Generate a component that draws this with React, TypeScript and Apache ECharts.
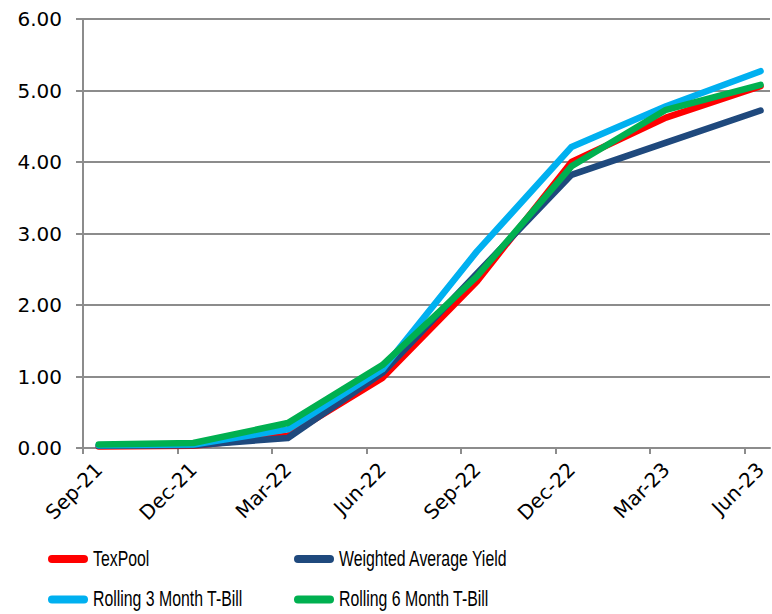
import React, { useEffect, useRef } from "react";
import * as echarts from "echarts";

const categories = ["Sep-21", "Dec-21", "Mar-22", "Jun-22", "Sep-22", "Dec-22", "Mar-23", "Jun-23"];
const seriesNames = ["TexPool", "Weighted Average Yield", "Rolling 3 Month T-Bill", "Rolling 6 Month T-Bill"];
const texPool = [0.02, 0.03, 0.17, 0.98, 2.33, 4.0, 4.62, 5.06];
const weightedAvgYield = [0.03, 0.04, 0.14, 1.05, 2.44, 3.82, 4.27, 4.72];
const rolling3M = [0.04, 0.05, 0.26, 1.1, 2.75, 4.21, 4.78, 5.27];
const rolling6M = [0.05, 0.07, 0.35, 1.16, 2.4, 3.94, 4.73, 5.08];
const seriesColors = ["#ff0000", "#1f497d", "#00b0f0", "#00b050"];
const yTicks = [0, 1, 2, 3, 4, 5, 6];

const MONTHS_PER_STEP = 3;
const POINT_OFFSET = 0.5;
const tickPositions = categories.map((_, i) => i * MONTHS_PER_STEP);
const labelPositions = categories.map((_, i) => i * MONTHS_PER_STEP + POINT_OFFSET);
const toPairs = (vals: number[]) => vals.map((v, i) => [labelPositions[i], v]);

const axisFont = "'DejaVu Sans', 'Liberation Sans', Arial, sans-serif";
const legendFont = "'Liberation Sans', Arial, sans-serif";

export default function App() {
  const ref = useRef<HTMLDivElement>(null);
  useEffect(() => {
    if (!ref.current) return;
    const chart = echarts.init(ref.current, undefined, { renderer: "svg" });
    const gridColor = "#8c8c8c";
    const allData = [texPool, weightedAvgYield, rolling3M, rolling6M];
    const series = seriesNames.map((name, i) => ({
      name,
      type: "line",
      data: toPairs(allData[i]),
      symbol: "none",
      itemStyle: { color: seriesColors[i] },
      lineStyle: { color: seriesColors[i], width: 6.5, cap: "round", join: "round" },
    }));

    // Legend laid out as 2 columns x 2 rows, drawn with graphic elements (condensed text)
    const legendCols = [48, 294];
    const legendRows = [559, 599.5];
    const legendItems: any[] = [];
    seriesNames.forEach((name, i) => {
      const cx = legendCols[i % 2];
      const cy = legendRows[Math.floor(i / 2)];
      legendItems.push({
        type: "rect",
        shape: { x: cx, y: cy - 4, width: 40, height: 8, r: 4 },
        style: { fill: seriesColors[i] },
      });
      legendItems.push({
        type: "text",
        x: cx + 45,
        y: cy - 0.5,
        scaleX: 0.72,
        style: {
          text: name,
          fontSize: 22,
          fontFamily: legendFont,
          fill: "#000",
          verticalAlign: "middle",
          align: "left",
        },
      });
    });

    chart.setOption({
      animation: false,
      grid: { left: 83, right: 2, top: 19, bottom: 166 },
      graphic: legendItems,
      xAxis: {
        type: "value",
        min: 0,
        max: 21.8,
        splitLine: { show: false },
        axisLine: { show: true, lineStyle: { color: gridColor, width: 2 } },
        axisTick: { show: true, length: 6, customValues: tickPositions, lineStyle: { color: gridColor, width: 2 } },
        axisLabel: {
          customValues: labelPositions,
          rotate: 45,
          margin: 18,
          fontSize: 20,
          color: "#000",
          fontFamily: axisFont,
          formatter: (v: number) => categories[Math.round((v - POINT_OFFSET) / MONTHS_PER_STEP)] ?? "",
        },
      },
      yAxis: {
        type: "value",
        min: yTicks[0],
        max: yTicks[yTicks.length - 1],
        interval: 1,
        axisLine: { show: true, lineStyle: { color: gridColor, width: 2 } },
        axisTick: { show: true, length: 7, lineStyle: { color: gridColor, width: 2 } },
        splitLine: { show: true, lineStyle: { color: gridColor, width: 2 } },
        axisLabel: {
          margin: 21,
          fontSize: 20,
          color: "#000",
          fontFamily: axisFont,
          formatter: (v: number) => v.toFixed(2),
        },
      },
      series,
    });
    return () => chart.dispose();
  }, []);
  return (
    <div
      ref={ref}
      style={{ position: "absolute", left: 0, top: 0, width: 772, height: 614, background: "#fff" }}
    />
  );
}
